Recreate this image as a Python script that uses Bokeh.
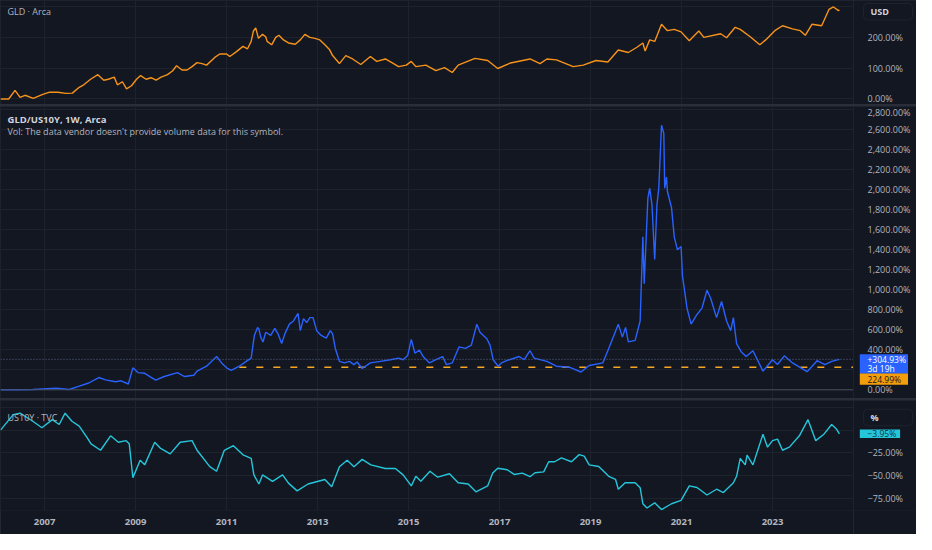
from bokeh.plotting import figure
from bokeh.models import (Range1d, FixedTicker, CustomJSTickFormatter, Label, Span, Grid,
                          BoxAnnotation, ColumnDataSource)
from bokeh.core.properties import value
from bokeh.layouts import column, row
from bokeh.embed import file_html
from bokeh.resources import INLINE

# ---------------- data ----------------
YEAR_TICKS = [2007, 2009, 2011, 2013, 2015, 2017, 2019, 2021, 2023]

gld_t = [2006.03, 2006.21, 2006.35, 2006.46, 2006.57, 2006.75, 2006.96, 2007.11, 2007.29, 2007.47,
         2007.61, 2007.76, 2007.86, 2008.01, 2008.17, 2008.30, 2008.40, 2008.53, 2008.60, 2008.71,
         2008.80, 2008.91, 2009.02, 2009.11, 2009.23, 2009.34, 2009.45, 2009.56, 2009.70, 2009.81,
         2009.90, 2010.02, 2010.13, 2010.24, 2010.35, 2010.46, 2010.56, 2010.74, 2010.85, 2011.00,
         2011.07, 2011.21, 2011.36, 2011.46, 2011.54, 2011.59, 2011.64, 2011.70, 2011.79, 2011.86,
         2011.89, 2011.99, 2012.08, 2012.15, 2012.25, 2012.36, 2012.51, 2012.62, 2012.72, 2012.83,
         2012.94, 2013.05, 2013.16, 2013.26, 2013.33, 2013.48, 2013.62, 2013.77, 2013.95, 2014.16,
         2014.30, 2014.49, 2014.67, 2014.78, 2014.95, 2015.06,
         2015.16, 2015.38, 2015.60, 2015.79, 2015.96, 2016.09, 2016.46, 2016.74, 2016.96, 2017.24,
         2017.67, 2017.89, 2018.04, 2018.25, 2018.62, 2018.84, 2019.12, 2019.38, 2019.61, 2019.83,
         2020.02, 2020.15, 2020.20, 2020.30, 2020.41, 2020.56, 2020.69, 2020.84, 2020.99, 2021.17,
         2021.38, 2021.49, 2021.86, 2021.99, 2022.18, 2022.29, 2022.51, 2022.72, 2022.85, 2023.05,
         2023.22, 2023.44, 2023.61, 2023.72, 2023.87, 2024.08, 2024.24, 2024.34, 2024.45, 2024.47]
gld_pct = [0, 0, 28, 5, 12, 2, 15, 22, 22, 18,
           19, 38, 46, 64, 79, 61, 64, 71, 46, 56,
           33, 43, 64, 76, 64, 69, 61, 71, 79, 91,
           108, 94, 94, 105, 118, 115, 110, 135, 146, 146,
           138, 153, 171, 163, 187, 221, 231, 197, 210, 202,
           187, 176, 200, 207, 192, 182, 178, 192, 210, 200,
           197, 192, 176, 161, 141, 115, 141, 130, 112, 138,
           122, 130, 115, 105, 110, 122,
           105, 110, 92, 102, 86, 110, 132, 125, 99, 117,
           130, 115, 130, 127, 105, 110, 125, 120, 159, 151,
           168, 182, 156, 192, 187, 243, 222, 226, 218, 189,
           221, 200, 212, 199, 233, 226, 202, 176, 192, 222,
           238, 228, 222, 207, 243, 238, 291, 299, 287, 289]

ratio_t = [2006.03, 2006.39, 2006.74, 2007.26, 2007.54, 2007.76, 2007.97, 2008.19, 2008.34, 2008.56,
           2008.68, 2008.84, 2008.94, 2009.05, 2009.20, 2009.44, 2009.63, 2009.92, 2010.07, 2010.28,
           2010.35, 2010.56, 2010.78, 2010.89,
           2011.00, 2011.10, 2011.28, 2011.43, 2011.54, 2011.61, 2011.68, 2011.71, 2011.75, 2011.80,
           2011.86, 2011.97, 2012.06, 2012.13, 2012.21, 2012.28, 2012.38, 2012.47, 2012.57, 2012.62,
           2012.69, 2012.76, 2012.83, 2012.90, 2012.98, 2013.08, 2013.19, 2013.28, 2013.33, 2013.39,
           2013.48, 2013.59, 2013.70, 2013.80, 2013.87, 2013.98, 2014.16, 2014.38, 2014.60, 2014.78,
           2014.88, 2014.98, 2015.06, 2015.14, 2015.24, 2015.32, 2015.46, 2015.60, 2015.75, 2015.83,
           2015.96, 2016.11, 2016.25, 2016.38, 2016.50, 2016.57, 2016.72, 2016.79, 2016.86, 2016.97,
           2017.04,
           2017.17, 2017.43, 2017.54, 2017.67, 2017.76, 2018.04, 2018.25, 2018.53, 2018.79, 2018.97,
           2019.27, 2019.40, 2019.61, 2019.70, 2019.77, 2019.83, 2019.98, 2020.09, 2020.15, 2020.18,
           2020.26, 2020.30, 2020.35, 2020.41, 2020.46, 2020.50, 2020.56, 2020.61, 2020.63, 2020.67,
           2020.69, 2020.78, 2020.84, 2020.91, 2020.99, 2021.02, 2021.12, 2021.21, 2021.34, 2021.45,
           2021.56, 2021.64, 2021.77, 2021.88, 2021.99, 2022.08, 2022.14, 2022.21, 2022.31, 2022.42,
           2022.57, 2022.79, 2023.00, 2023.11, 2023.26, 2023.44, 2023.76, 2023.98, 2024.15, 2024.30,
           2024.47]
ratio_pct = [0, 0, 3, 16, 3, 36, 68, 123, 100, 81,
             90, 58, 220, 172, 165, 97, 133, 172, 133, 146,
             187, 236, 333, 269,
             220, 194, 236, 285, 317, 544, 624, 608, 527, 479,
             576, 544, 615, 560, 463, 560, 657, 689, 764, 592,
             712, 673, 722, 722, 592, 544, 518, 592, 560, 414,
             285, 269, 285, 252, 278, 213, 269, 285, 301, 317,
             301, 343, 505, 366, 398, 333, 269, 301, 333, 252,
             269, 430, 414, 447, 657, 576, 511, 447, 301, 236,
             269,
             294, 333, 301, 391, 317, 285, 236, 226, 178, 243,
             269, 414, 657, 527, 624, 479, 495, 689, 1531, 1061,
             1919, 2016, 1854, 1304, 1854, 2016, 2647, 2566, 2016, 2129,
             1984, 1822, 1531, 1401, 1434, 1143, 818, 657, 754, 818,
             997, 916, 722, 884, 689, 592, 722, 463, 382, 333,
             391, 187, 301, 253, 340, 269, 181, 291, 252, 285,
             304.93]

us10y_t = [2006.03, 2006.31, 2006.46, 2006.74, 2006.94, 2007.17, 2007.32, 2007.45, 2007.60, 2007.76,
           2007.93, 2008.02, 2008.23, 2008.45, 2008.62, 2008.79, 2008.86, 2008.94, 2009.10, 2009.20,
           2009.42, 2009.55, 2009.76, 2009.98, 2010.24, 2010.35, 2010.63, 2010.78, 2010.95, 2011.15,
           2011.36, 2011.54, 2011.60, 2011.71, 2011.79, 2012.01, 2012.23, 2012.36, 2012.55, 2012.79,
           2013.16, 2013.31, 2013.48, 2013.65, 2013.80, 2013.98, 2014.17, 2014.49, 2014.71, 2014.88,
           2015.06, 2015.16, 2015.27, 2015.47, 2015.64, 2015.90, 2016.09, 2016.31, 2016.48, 2016.74,
           2016.85, 2016.96, 2017.17, 2017.32, 2017.50, 2017.67, 2017.78, 2017.97, 2018.08, 2018.21,
           2018.36, 2018.58, 2018.75, 2018.86, 2018.97, 2019.18, 2019.40, 2019.55, 2019.61, 2019.76,
           2019.98, 2020.09, 2020.15, 2020.24, 2020.41, 2020.56, 2020.78, 2020.99, 2021.17, 2021.34,
           2021.56, 2021.77, 2021.92, 2022.14, 2022.21, 2022.29, 2022.40, 2022.44, 2022.57, 2022.79,
           2022.89, 2023.00, 2023.11, 2023.22, 2023.37, 2023.59, 2023.78, 2023.95, 2024.13, 2024.30,
           2024.41, 2024.47]
us10y_pct = [0, 17, 18.6, 9.8, 2.7, 11.5, 6.2, 18.6, 9.8, 4.4,
             -8, -15, -22, -6.2, -13.3, -11.5, -15, -52, -33, -38,
             -13.3, -20, -26, -13.3, -11.5, -22, -40, -45, -22, -17,
             -27, -31, -49, -59, -49, -56, -49, -58, -66.5, -59,
             -54, -62, -40, -33, -40, -32, -38, -42, -42, -49,
             -61, -50.5, -56, -45, -51.5, -47.7, -57.6, -59, -67.5, -61,
             -47, -41.7, -43.4, -48.5, -47, -51, -46.6, -45.7, -34.6, -34.6,
             -30.3, -34.6, -26.8, -28.5, -38, -39.8, -50.5, -54, -64.7, -57.6,
             -57.6, -63, -80.6, -85.3, -79.6, -87, -80.6, -77, -61, -62.8,
             -71, -64.7, -68.3, -57.6, -50.5, -31, -38, -27.4, -38, -4.4,
             -18.6, -11.5, -9.8, -22, -18.6, -6.2, 11.5, -11.5, -4.4, 6.2,
             0.9, -3.95]

gld_axis_ticks = [0, 100, 200]
ratio_axis_ticks = [0, 400, 600, 800, 1000, 1200, 1400, 1600, 1800, 2000, 2200, 2400, 2600, 2800]
us10y_axis_ticks = [-75, -50, -25]

support_start = 2011.28
support_level = 224.99
ratio_last = 304.93
ratio_countdown = "3d 19h"
us10y_last = -3.95

assert len(gld_t) == len(gld_pct)
assert len(ratio_t) == len(ratio_pct)
assert len(us10y_t) == len(us10y_pct)

# ---------------- style ----------------
BG = "#131722"
GRID = "#1e222d"
SEP = "#2a2e39"
TXT = "#b2b5be"
FONT = "Open Sans"
ORANGE = "#f7931a"
BLUE = "#2962ff"
CYAN = "#26c6da"
TAG_ORANGE = "#f59e0b"
MAIN_W = 853
SIDE_W = 63
XAX_H = 24

x_range = Range1d(2006.03, 2024.78)


def pct_text(v):
    return ("\u2212" if v < 0 else "") + f"{abs(v):,.2f}%"


def make_main(height, y_range, grid_ticks, bottom_axis=False):
    p = figure(width=MAIN_W, height=height, x_range=x_range, y_range=y_range,
               y_axis_location=None, x_axis_location="below" if bottom_axis else None,
               output_backend="svg", toolbar_location=None,
               background_fill_color=BG, border_fill_color=BG, outline_line_color=None,
               min_border_left=0, min_border_right=0, min_border_top=0,
               min_border_bottom=XAX_H if bottom_axis else 0)
    p.grid.visible = False
    p.add_layout(Grid(dimension=0, ticker=FixedTicker(ticks=YEAR_TICKS), grid_line_color=GRID))
    p.add_layout(Grid(dimension=1, ticker=FixedTicker(ticks=grid_ticks), grid_line_color=GRID))
    if bottom_axis:
        xa = p.xaxis[0]
        xa.ticker = FixedTicker(ticks=YEAR_TICKS)
        xa.formatter = CustomJSTickFormatter(code="return tick.toFixed(0);")
        xa.axis_line_color = None
        xa.major_tick_line_color = None
        xa.minor_tick_line_color = None
        xa.major_tick_out = 0
        xa.major_tick_in = 0
        xa.minor_tick_out = 0
        xa.minor_tick_in = 0
        xa.major_label_text_color = TXT
        xa.major_label_text_font = FONT
        xa.major_label_text_font_size = "9.5px"
        xa.major_label_text_font_style = "bold"
        xa.major_label_standoff = 8
    return p


def make_side(height, y_range, ticks, bottom_axis=False):
    frame_h = height - (XAX_H if bottom_axis else 0)
    s = figure(width=SIDE_W, height=height, x_range=Range1d(0, SIDE_W), y_range=y_range,
               x_axis_location=None, y_axis_location=None,
               output_backend="svg", toolbar_location=None,
               background_fill_color=BG, border_fill_color=BG, outline_line_color=None,
               min_border_left=0, min_border_right=0, min_border_top=0,
               min_border_bottom=XAX_H if bottom_axis else 0)
    s.grid.visible = False
    s.extra_y_ranges = {"px": Range1d(0, frame_h)}
    # keep a label that sits right at the top edge inside the pane
    k = (y_range.end - y_range.start) / frame_h
    nudge = [max(0.0, 6.0 - (y_range.end - v) / k) for v in ticks]
    src = ColumnDataSource(dict(y=ticks, x=[14] * len(ticks), dy=nudge,
                                t=[pct_text(v) for v in ticks]))
    s.text(x="x", y="y", text="t", y_offset="dy", source=src, text_baseline="middle",
           text_align="left", text_font=value(FONT), text_font_size="9px", text_color=TXT)
    return s, frame_h


def header(p, x, y, text, dy, bold=False, color=TXT, size="9px"):
    p.add_layout(Label(x=x, y=y, x_offset=7, y_offset=dy, text=text, text_baseline="middle",
                       text_font=FONT, text_font_size=size, text_color=color,
                       text_font_style="bold" if bold else "normal"))


def button(s, frame_h, top_gap, label):
    s.add_layout(BoxAnnotation(left=10, right=59, top=frame_h - top_gap, bottom=frame_h - top_gap - 16.5,
                               y_range_name="px", fill_alpha=0, line_color="#363a45",
                               line_width=1, border_radius=4))
    s.text(x=[17], y=[frame_h - top_gap - 8.25], text=[label], y_range_name="px",
           text_baseline="middle", text_align="left", text_font=value(FONT),
           text_font_size="9px", text_font_style="bold", text_color="#d1d4dc")


def tag(s, rng, frame_h, val, above_px, below_px, right, fill, lines, text_color):
    """price tag on the scale: box spans above_px over / below_px under the value"""
    k = (rng.end - rng.start) / frame_h
    s.quad(left=[6.3], right=[right], top=[val + above_px * k], bottom=[val - below_px * k],
           fill_color=fill, line_color=None)
    for txt, dy in lines:
        s.text(x=[14], y=[val - dy * k], text=[txt], text_baseline="middle", text_align="left",
               text_font=value(FONT), text_font_size="8.5px", text_color=text_color)


# ---------------- top pane: GLD ----------------
top_range = Range1d(-18, 320)
p1 = make_main(104, top_range, [0, 100, 200, 300])
p1.line(gld_t, gld_pct, line_color=ORANGE, line_width=1.4)
header(p1, x_range.start, top_range.end, "GLD · Arca", -11)
s1, fh1 = make_side(104, top_range, gld_axis_ticks)
button(s1, fh1, 3, "USD")

# ---------------- middle pane: GLD/US10Y ----------------
mid_range = Range1d(-87, 2835)
p2 = make_main(292, mid_range, list(range(0, 2801, 200)))
p2.add_layout(Span(location=0, dimension="width", line_color="#4a4e59", line_width=1))
p2.add_layout(Span(location=ratio_last, dimension="width", line_color="#5b6786",
                   line_width=1, line_dash="1 2"))
p2.ray(x=[support_start], y=[support_level], length=0, angle=0,
       line_color="#f5a623", line_width=1.5, line_dash="7 10")
p2.line(ratio_t, ratio_pct, line_color=BLUE, line_width=1.4)
header(p2, x_range.start, mid_range.end, "GLD/US10Y, 1W, Arca", -13, bold=True, color="#d1d4dc", size="9.5px")
header(p2, x_range.start, mid_range.end, "Vol: The data vendor doesn't provide volume data for this symbol.", -25)
s2, fh2 = make_side(292, mid_range, ratio_axis_ticks)
tag(s2, mid_range, fh2, ratio_last, 5.1, 14.3, 54.5, BLUE,
    [("+%.2f%%" % ratio_last, 0), (ratio_countdown, 9.2)], "#ffffff")
tag(s2, mid_range, fh2, support_level, -6.3, 17.4, 54.5, TAG_ORANGE,
    [(pct_text(support_level), 11.9)], "#131722")

# ---------------- bottom pane: US10Y ----------------
bot_range = Range1d(-88, 32.5)
p3 = make_main(134, bot_range, [-75, -50, -25, 0, 25], bottom_axis=True)
p3.line(us10y_t, us10y_pct, line_color=CYAN, line_width=1.4)
header(p3, x_range.start, bot_range.end, "US10Y · TVC", -17)
s3, fh3 = make_side(134, bot_range, us10y_axis_ticks, bottom_axis=True)
button(s3, fh3, 8.7, "%")
tag(s3, bot_range, fh3, us10y_last, 4.3, 4.3, 46.6, CYAN,
    [(pct_text(us10y_last), 0)], "#0f3440")

layout = column(row(p1, s1), row(p2, s2), row(p3, s3), spacing=2,
                styles={"background-color": SEP})
open("out.html", "w").write(file_html(layout, INLINE))
